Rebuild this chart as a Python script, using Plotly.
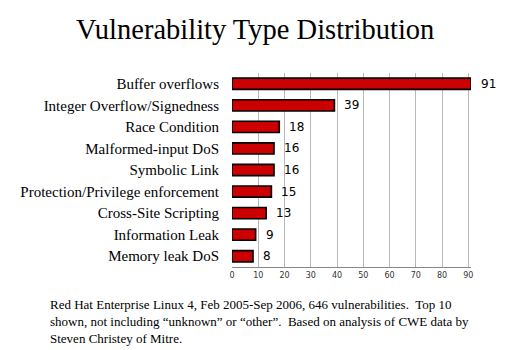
import plotly.graph_objects as go

categories = ["Buffer overflows", "Integer Overflow/Signedness", "Race Condition",
              "Malformed-input DoS", "Symbolic Link", "Protection/Privilege enforcement",
              "Cross-Site Scripting", "Information Leak", "Memory leak DoS"]
values = [91, 39, 18, 16, 16, 15, 13, 9, 8]
x_ticks = [0, 10, 20, 30, 40, 50, 60, 70, 80, 90]

title_text = "Vulnerability Type Distribution"
footer_text = ("Red Hat Enterprise Linux 4, Feb 2005-Sep 2006, 646 vulnerabilities.  Top 10<br>"
               "shown, not including \u201cunknown\u201d or \u201cother\u201d.  Based on analysis of CWE data by<br>"
               "Steven Christey of Mitre.")

SERIF = "Liberation Serif"
W, H = 510, 350
L, R, T, B = 232, 39, 73, 83
PW, PH = W - L - R, H - T - B

fig = go.Figure()
fig.add_trace(go.Bar(
    x=values, y=categories, orientation="h", width=0.52,
    marker=dict(color="#cc0000", line=dict(color="black", width=1.6)),
    hoverinfo="skip",
))
for c, v in zip(categories, values):
    fig.add_annotation(x=v, y=c, text=str(v), showarrow=False, xanchor="left",
                       xshift=8, font=dict(family="DejaVu Sans", size=12, color="black"))

fig.add_annotation(text=title_text, xref="paper", yref="paper",
                   x=(255 - L) / PW, y=1 + (T - 30) / PH,
                   xanchor="center", yanchor="middle", showarrow=False,
                   font=dict(family=SERIF, size=28.5, color="black"))
fig.add_annotation(text=footer_text, xref="paper", yref="paper",
                   x=(48 - L) / PW, y=-(321.5 - (H - B)) / PH,
                   xanchor="left", yanchor="middle", align="left", showarrow=False,
                   font=dict(family=SERIF, size=13, color="black"))

fig.update_layout(
    width=W, height=H,
    margin=dict(l=L, r=R, t=T, b=B),
    paper_bgcolor="white", plot_bgcolor="white",
    showlegend=False,
)

fig.update_xaxes(range=[0, 91], tickvals=x_ticks, showgrid=True, gridcolor="#b8b8b8",
                 gridwidth=1, showline=True, linecolor="#888888", linewidth=1,
                 ticks="", tickfont=dict(family="DejaVu Sans", size=8, color="#333333"),
                 zeroline=False, fixedrange=True)
fig.update_yaxes(autorange="reversed", showgrid=False, showline=False, ticks="",
                 ticklabelstandoff=12,
                 tickfont=dict(family=SERIF, size=15, color="black"),
                 fixedrange=True)

fig.write_html("out.html", config={"displayModeBar": False})
